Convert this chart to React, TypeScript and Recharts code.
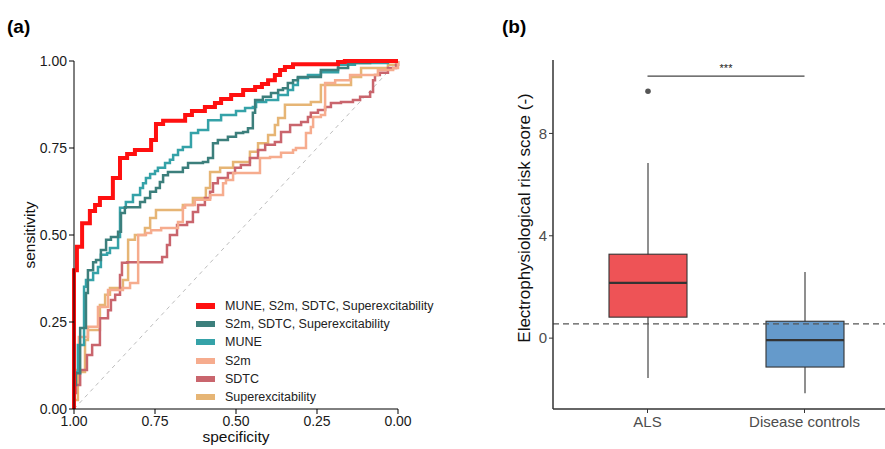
import React from "react";
import {
  LineChart, Line, XAxis, YAxis, ReferenceLine,
  ComposedChart, Bar,
} from "recharts";

// ---- panel (a): ROC curves ----
const comboAllSpec = [1.000,0.991,0.975,0.951,0.935,0.920,0.880,0.858,0.836,0.812,0.762,0.747,0.725,0.657,0.636,0.596,0.565,0.546,0.515,0.478,0.441,0.420,0.401,0.380,0.364,0.349,0.324,0.185,0.164,0.000];
const comboAllSens = [0.000,0.399,0.466,0.534,0.569,0.586,0.606,0.664,0.721,0.733,0.744,0.773,0.819,0.828,0.845,0.856,0.868,0.879,0.891,0.902,0.917,0.925,0.934,0.945,0.960,0.974,0.983,0.991,0.997,1.000];

const s2mComboSpec = [1.000,0.994,0.981,0.963,0.957,0.941,0.932,0.917,0.901,0.886,0.864,0.855,0.843,0.796,0.781,0.765,0.747,0.735,0.725,0.710,0.664,0.648,0.602,0.586,0.571,0.556,0.525,0.500,0.478,0.463,0.448,0.441,0.417,0.392,0.370,0.355,0.340,0.324,0.309,0.238,0.185,0.154,0.086,0.000];
const s2mComboSens = [0.000,0.069,0.103,0.233,0.333,0.399,0.422,0.428,0.457,0.486,0.494,0.509,0.563,0.580,0.595,0.606,0.624,0.635,0.652,0.672,0.681,0.693,0.707,0.710,0.721,0.764,0.773,0.782,0.793,0.796,0.807,0.851,0.888,0.897,0.908,0.917,0.922,0.937,0.945,0.954,0.974,0.980,0.994,1.000];

const muneSpec = [1.000,0.988,0.969,0.963,0.941,0.926,0.917,0.898,0.889,0.864,0.858,0.840,0.818,0.796,0.787,0.778,0.765,0.750,0.741,0.719,0.704,0.694,0.679,0.664,0.639,0.617,0.586,0.546,0.500,0.472,0.448,0.438,0.407,0.370,0.340,0.324,0.309,0.278,0.238,0.185,0.133,0.031,0.000];
const muneSens = [0.000,0.106,0.184,0.351,0.371,0.391,0.408,0.443,0.448,0.463,0.494,0.578,0.595,0.615,0.635,0.649,0.664,0.675,0.684,0.693,0.707,0.716,0.730,0.744,0.753,0.793,0.802,0.830,0.845,0.856,0.865,0.868,0.882,0.888,0.902,0.917,0.931,0.951,0.960,0.968,0.989,0.994,1.000];

const s2mSpec = [1.000,0.985,0.957,0.926,0.895,0.849,0.827,0.802,0.778,0.762,0.731,0.679,0.664,0.657,0.627,0.580,0.540,0.531,0.509,0.426,0.395,0.361,0.324,0.315,0.284,0.269,0.262,0.238,0.225,0.194,0.148,0.062,0.015,0.000,0.000];
const s2mSens = [0.000,0.112,0.207,0.236,0.293,0.342,0.348,0.362,0.500,0.506,0.514,0.520,0.537,0.578,0.586,0.601,0.615,0.649,0.658,0.678,0.721,0.724,0.736,0.744,0.750,0.793,0.810,0.839,0.845,0.937,0.945,0.960,0.974,0.980,1.000];

const sdtcSpec = [1.000,0.994,0.981,0.960,0.944,0.920,0.895,0.886,0.873,0.858,0.852,0.836,0.728,0.713,0.704,0.682,0.651,0.633,0.617,0.596,0.580,0.571,0.556,0.525,0.503,0.485,0.457,0.432,0.410,0.380,0.361,0.333,0.299,0.278,0.269,0.247,0.225,0.207,0.176,0.139,0.117,0.086,0.077,0.071,0.056,0.031,0.006,0.000,0.000];
const sdtcSens = [0.000,0.046,0.069,0.112,0.155,0.184,0.261,0.284,0.313,0.328,0.385,0.420,0.422,0.437,0.471,0.500,0.529,0.537,0.566,0.586,0.606,0.624,0.649,0.664,0.678,0.693,0.701,0.721,0.744,0.759,0.767,0.796,0.816,0.825,0.839,0.851,0.859,0.868,0.879,0.882,0.888,0.897,0.911,0.945,0.960,0.966,0.980,0.989,1.000];

const superSpec = [1.000,0.988,0.966,0.957,0.920,0.904,0.889,0.849,0.833,0.812,0.781,0.765,0.747,0.664,0.633,0.593,0.580,0.549,0.509,0.457,0.432,0.401,0.380,0.370,0.349,0.269,0.238,0.145,0.114,0.031,0.000,0.000];
const superSens = [0.000,0.026,0.106,0.198,0.227,0.299,0.328,0.348,0.371,0.486,0.500,0.520,0.549,0.572,0.586,0.606,0.635,0.681,0.693,0.710,0.739,0.764,0.787,0.816,0.836,0.874,0.882,0.931,0.954,0.980,0.989,1.000];

const rocTicks = [0, 0.25, 0.5, 0.75, 1];

// ---- panel (b): boxplot summary ----
const groups = ["ALS", "Disease controls"];
const whiskerLow = [-1.56, -2.15];
const q1 = [0.82, -1.13];
const median = [2.16, -0.08];
const q3 = [3.28, 0.66];
const whiskerHigh = [6.84, 2.58];
const outliers = [[9.65], []];
const boxColors = ["#EE5356", "#659ACB"];
const cutoff = 0.56;
const sigY = 10.24;
const scoreTicks = [0, 4, 8];

const FONT = "'Liberation Sans', Arial, sans-serif";

const toPoints = (spec: number[], sens: number[]) =>
  spec.map((s, i) => ({ spec: s, sens: sens[i] }));

// draw order: last one ends up on top
const rocSeries = [
  { name: "Superexcitability", color: "#E6B575", width: 2.5, data: toPoints(superSpec, superSens) },
  { name: "SDTC", color: "#C9656D", width: 2.5, data: toPoints(sdtcSpec, sdtcSens) },
  { name: "S2m", color: "#F6AC8E", width: 2.5, data: toPoints(s2mSpec, s2mSens) },
  { name: "MUNE", color: "#35A2A8", width: 2.5, data: toPoints(muneSpec, muneSens) },
  { name: "S2m, SDTC, Superexcitability", color: "#3C7F7C", width: 2.5, data: toPoints(s2mComboSpec, s2mComboSens) },
  { name: "MUNE, S2m, SDTC, Superexcitability", color: "#FF1010", width: 4, data: toPoints(comboAllSpec, comboAllSens) },
];
const legendOrder = [...rocSeries].reverse();

const boxData = groups.map((g, i) => ({
  group: g,
  range: [whiskerLow[i], whiskerHigh[i]],
  low: whiskerLow[i],
  high: whiskerHigh[i],
  q1: q1[i],
  median: median[i],
  q3: q3[i],
  outliers: outliers[i],
  color: boxColors[i],
}));

function BoxShape(props: any) {
  const { x, y, width, height, payload } = props;
  const { low, high } = payload;
  const toPx = (v: number) => y + (height * (high - v)) / (high - low);
  const cx = x + width / 2;
  return (
    <g>
      <line x1={cx} x2={cx} y1={toPx(high)} y2={toPx(low)} stroke="#333" strokeWidth={1.1} />
      <rect x={x} y={toPx(payload.q3)} width={width} height={toPx(payload.q1) - toPx(payload.q3)}
        fill={payload.color} stroke="#333" strokeWidth={1.1} />
      <line x1={x} x2={x + width} y1={toPx(payload.median)} y2={toPx(payload.median)} stroke="#333" strokeWidth={2.4} />
      {payload.outliers.map((o: number, i: number) => (
        <circle key={i} cx={cx} cy={toPx(o)} r={2.8} fill="#555" />
      ))}
    </g>
  );
}

function RocLegend() {
  return (
    <div style={{ position: "absolute", left: 196, top: 297, fontFamily: FONT, fontSize: 12.5, color: "#222" }}>
      {legendOrder.map((s) => (
        <div key={s.name} style={{ display: "flex", alignItems: "center", height: 18.2 }}>
          <span style={{ display: "inline-block", width: 19, height: 6, background: s.color, marginRight: 10 }} />
          <span>{s.name}</span>
        </div>
      ))}
    </div>
  );
}

export default function App() {
  const abs = (l: number, t: number): React.CSSProperties => ({ position: "absolute", left: l, top: t });
  return (
    <div style={{ position: "absolute", left: 0, top: 0, width: 885, height: 449, background: "#fff", fontFamily: FONT, overflow: "hidden" }}>
      <div style={{ ...abs(7, 16), fontWeight: "bold", fontSize: 19 }}>(a)</div>
      <div style={{ ...abs(502, 16), fontWeight: "bold", fontSize: 19 }}>(b)</div>

      <div style={abs(0, 0)}>
        <LineChart width={420} height={449} margin={{ top: 61, right: 22, bottom: 10, left: 30 }}>
          <XAxis type="number" dataKey="spec" domain={[0, 1]} reversed ticks={rocTicks}
            tickFormatter={(v: number) => v.toFixed(2)} height={30} tickSize={5} tickMargin={2}
            axisLine={{ stroke: "#000", strokeWidth: 1 }} tickLine={{ stroke: "#000" }}
            tick={{ fill: "#1a1a1a", fontSize: 14, fontFamily: FONT }} allowDuplicatedCategory={false} />
          <YAxis type="number" domain={[0, 1]} ticks={rocTicks} tickFormatter={(v: number) => v.toFixed(2)}
            width={44} tickSize={5} tickMargin={2}
            axisLine={{ stroke: "#000", strokeWidth: 1 }} tickLine={{ stroke: "#000" }}
            tick={{ fill: "#1a1a1a", fontSize: 14, fontFamily: FONT }} />
          <ReferenceLine segment={[{ x: 1, y: 0 }, { x: 0, y: 1 }]} stroke="#BDBDBD" strokeDasharray="4 4" strokeWidth={1} />
          {rocSeries.map((s) => (
            <Line key={s.name} data={s.data} dataKey="sens" name={s.name} type="stepBefore"
              stroke={s.color} strokeWidth={s.width} dot={false} activeDot={false} isAnimationActive={false} />
          ))}
        </LineChart>
      </div>
      <div style={{ ...abs(236, 428), transform: "translateX(-50%)", fontSize: 15.5, color: "#111" }}>specificity</div>
      <div style={{ ...abs(30, 235), transform: "translate(-50%, -50%) rotate(-90deg)", fontSize: 15.5, color: "#111", whiteSpace: "nowrap" }}>sensitivity</div>
      <RocLegend />

      <div style={abs(480, 0)}>
        <ComposedChart width={405} height={449} data={boxData} margin={{ top: 60, right: 0, bottom: 10, left: 33 }}>
          <XAxis dataKey="group" type="category" height={30} tickSize={4} tickMargin={3} padding={{ left: 16, right: 2 }}
            axisLine={{ stroke: "#333", strokeWidth: 1.5 }} tickLine={{ stroke: "#333" }}
            tick={{ fill: "#4d4d4d", fontSize: 15, fontFamily: FONT }} />
          <YAxis type="number" domain={[-2.77, 10.87]} ticks={scoreTicks} allowDataOverflow width={40}
            tickSize={4} tickMargin={2}
            axisLine={{ stroke: "#333", strokeWidth: 1.5 }} tickLine={{ stroke: "#333" }}
            tick={{ fill: "#4d4d4d", fontSize: 15, fontFamily: FONT }} />
          <ReferenceLine y={cutoff} stroke="#555" strokeDasharray="6 4" strokeWidth={1.2} />
          <Bar dataKey="range" barSize={78} shape={BoxShape} isAnimationActive={false} />
          <ReferenceLine segment={[{ x: groups[0], y: sigY }, { x: groups[1], y: sigY }]} stroke="#444" strokeWidth={1.2}
            label={{ value: "***", position: "top", offset: 4, fontSize: 11, fill: "#222" }} />
        </ComposedChart>
      </div>
      <div style={{ ...abs(525, 218), transform: "translate(-50%, -50%) rotate(-90deg)", fontSize: 17, color: "#111", whiteSpace: "nowrap" }}>
        Electrophysiological risk score (-)
      </div>
    </div>
  );
}
